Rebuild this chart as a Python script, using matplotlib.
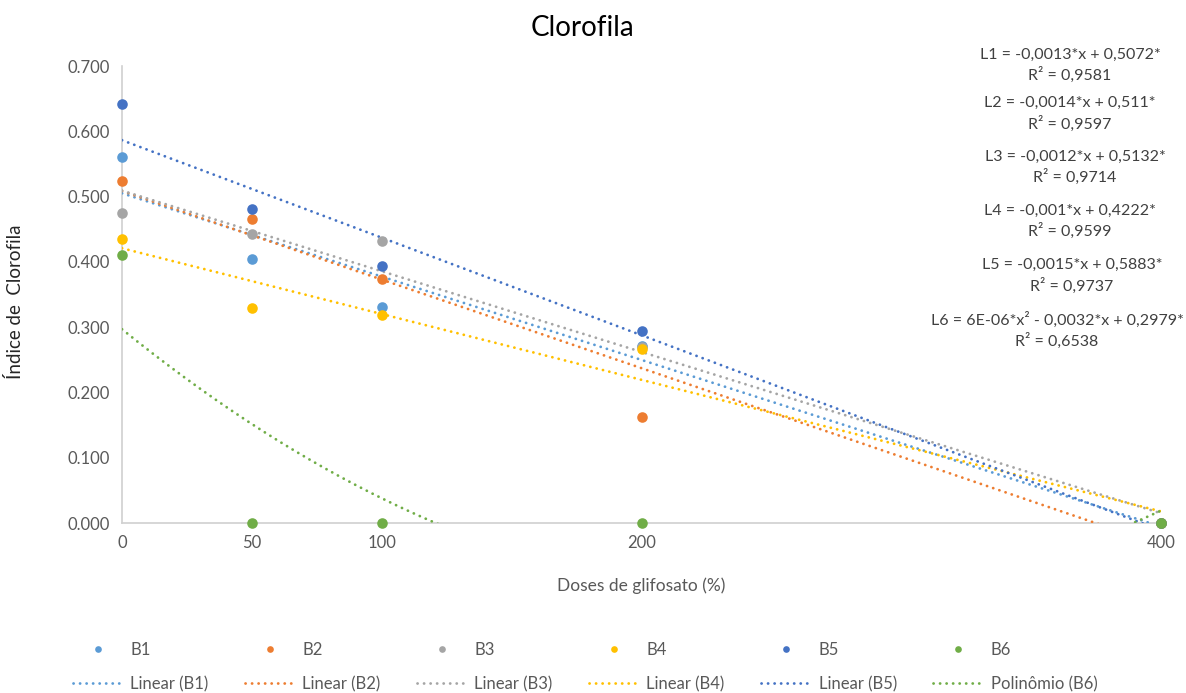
import numpy as np
import matplotlib
matplotlib.use("Agg")
import matplotlib.pyplot as plt
from matplotlib.lines import Line2D
from matplotlib.ticker import FormatStrFormatter

plt.rcParams['font.family'] = ['Lato', 'DejaVu Sans']

doses = [0, 50, 100, 200, 400]
dose_labels = ['0', '50', '100', '200', '400']
B1 = [0.561, 0.405, 0.331, 0.271, 0.0]
B2 = [0.524, 0.465, 0.374, 0.162, 0.0]
B3 = [0.475, 0.442, 0.432, 0.270, 0.0]
B4 = [0.4345, 0.330, 0.318, 0.266, 0.0]
B5 = [0.642, 0.481, 0.394, 0.2946, 0.0]
B6 = [0.4105, 0.0, 0.0, 0.0, 0.0]
series_names = ['B1', 'B2', 'B3', 'B4', 'B5', 'B6']
fit_degree = [1, 1, 1, 1, 1, 2]
trend_names = ['Linear (B1)', 'Linear (B2)', 'Linear (B3)', 'Linear (B4)',
               'Linear (B5)', 'Polinômio (B6)']
equations = [
    ("L1 = -0,0013*x + 0,5072*", "R² = 0,9581"),
    ("L2 = -0,0014*x + 0,511*", "R² = 0,9597"),
    ("L3 = -0,0012*x + 0,5132*", "R² = 0,9714"),
    ("L4 = -0,001*x + 0,4222*", "R² = 0,9599"),
    ("L5 = -0,0015*x + 0,5883*", "R² = 0,9737"),
    ("L6 = 6E-06*x² - 0,0032*x + 0,2979*", "R² = 0,6538"),
]
yticks = [0.0, 0.1, 0.2, 0.3, 0.4, 0.5, 0.6, 0.7]

colors = ['#5B9BD5', '#ED7D31', '#A5A5A5', '#FFC000', '#4472C4', '#70AD47']
data = [B1, B2, B3, B4, B5, B6]

W, H = 1186, 693
fig = plt.figure(figsize=(W / 100, H / 100), dpi=100)
ax = fig.add_axes([122 / W, 1 - 523 / H, (1161 - 122) / W, (523 - 66) / H])

DOT = (0, (0.05, 2.3))
LW = 2.0
xs = np.linspace(0, 400, 400)
handles = []
for name, tname, y, c, deg in zip(series_names, trend_names, data, colors, fit_degree):
    coef = np.polyfit(doses, y, deg)
    ax.plot(xs, np.polyval(coef, xs), color=c, lw=LW, linestyle=DOT,
            dash_capstyle='round', zorder=2)
    ax.scatter(doses, y, s=58, color=c, zorder=3, linewidths=0, clip_on=False)
    handles.append(Line2D([], [], marker='o', ls='none', color=c, markersize=4.8,
                          markeredgewidth=0, label=name))
    handles.append(Line2D([], [], color=c, lw=LW, linestyle=DOT,
                          dash_capstyle='round', label=tname))

ax.set_xlim(0, 400)
ax.set_ylim(0, 0.7)
ax.set_xticks(doses)
ax.set_xticklabels(dose_labels)
ax.set_yticks(yticks)
ax.yaxis.set_major_formatter(FormatStrFormatter('%.3f'))
for s in ['top', 'right']:
    ax.spines[s].set_visible(False)
for s in ['left', 'bottom']:
    ax.spines[s].set_color('#D0D0D0')
    ax.spines[s].set_linewidth(1.2)
    ax.spines[s].set_zorder(1)
ax.tick_params(axis='both', length=0, labelsize=12, labelcolor='#595959')
ax.tick_params(axis='x', pad=9)
ax.tick_params(axis='y', pad=9)
ax.set_ylabel('Índice de  Clorofila', fontsize=13.5, color='#262626')
ax.yaxis.set_label_coords(-0.094, 0.484)
ax.set_xlabel('Doses de glifosato (%)', fontsize=12.5, color='#595959')
ax.xaxis.set_label_coords(0.5, -0.12)

fig.text(582 / W, 1 - 28 / H, 'Clorofila', fontsize=20, ha='center', va='center',
         color='#000000')

eq_pos = [(1070, 55, 75), (1070, 103, 124), (1075, 157, 177),
          (1070, 211, 231), (1072, 265, 286), (1057, 320, 341)]
for (eq, r2), (cx, y1, y2) in zip(equations, eq_pos):
    fig.text(cx / W, 1 - y1 / H, eq, fontsize=11.5, ha='center', va='center', color='#404040')
    fig.text(cx / W, 1 - y2 / H, r2, fontsize=11.5, ha='center', va='center', color='#404040')

leg = fig.legend(handles=handles, ncol=6, loc='upper left',
                 bbox_to_anchor=(73 / W, 1 - 642 / H), frameon=False,
                 borderpad=0, borderaxespad=0,
                 fontsize=12, handlelength=2.95, handletextpad=0.48,
                 columnspacing=2.2, labelspacing=1.08)
for t in leg.get_texts():
    t.set_color('#595959')

fig.savefig('out.png', dpi=100)
